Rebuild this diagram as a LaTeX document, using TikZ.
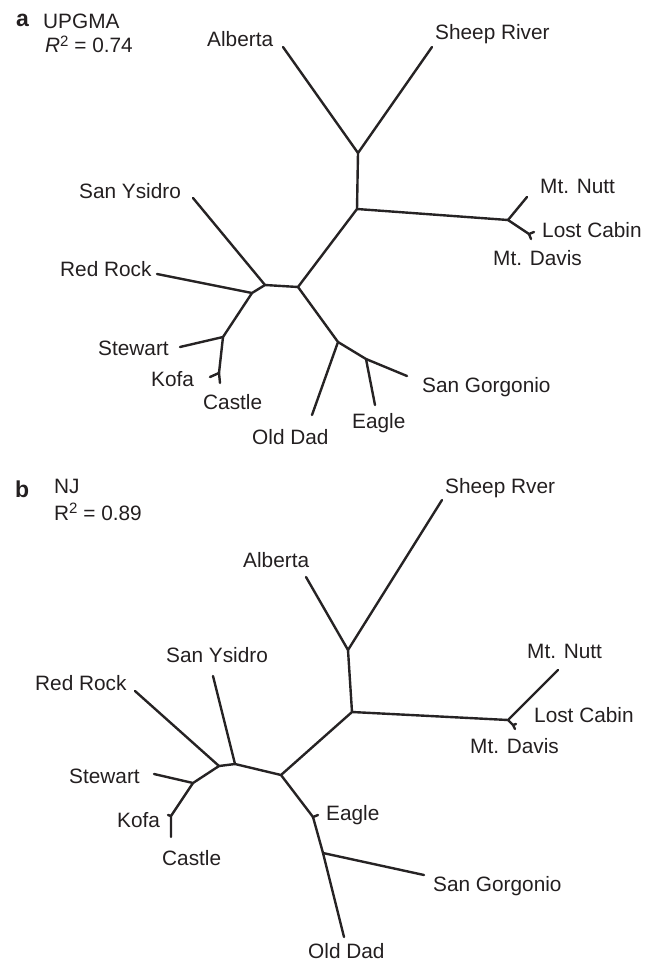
\documentclass[tikz,border=0pt]{standalone}
\usepackage{fontspec}
\setmainfont{Liberation Sans}
\definecolor{linec}{HTML}{262324}
\definecolor{labelc}{HTML}{231F20}
\newcommand{\supsq}{\raisebox{0.6ex}{\fontsize{15}{15}\selectfont 2}}
\tikzset{
  branch/.style={line width=2.4pt, draw=linec, line cap=round, line join=round},
  taxon/.style={anchor=base west, inner sep=0pt, text=labelc, font=\fontsize{20.8}{24}\selectfont},
  panelmark/.style={anchor=base west, inner sep=0pt, text=labelc, font=\fontsize{23}{24}\selectfont\bfseries},
}
\begin{document}
\begin{tikzpicture}[x=1pt, y=-1pt]
\useasboundingbox (0,0) rectangle (653,963);

% ---------------- Panel a: UPGMA ----------------
\node[panelmark] (pa) at (16,27) {a};
\node[taxon] (ma) at (43,29) {UPGMA};
\node[taxon] (ra) at (45,53) {\textit{R}\supsq{} = 0.74};

% junctions
\coordinate (a1) at (358,153);
\coordinate (a2) at (357,209);
\coordinate (a3) at (508,220);
\coordinate (a4) at (298,287);
\coordinate (a5) at (265,285);
\coordinate (a6) at (252,293);
\coordinate (a7) at (223,337);
\coordinate (a8) at (219,373);
\coordinate (a9) at (338,342);
\coordinate (a10) at (366,359);
\coordinate (a11) at (529,234);
% tips
\coordinate (aAlb) at (283,47);
\coordinate (aShe) at (432,47);
\coordinate (aNut) at (527,197);
\coordinate (aLos) at (534,232);
\coordinate (aDav) at (531,239);
\coordinate (aYsi) at (193,198);
\coordinate (aRed) at (157,274);
\coordinate (aSte) at (180,347);
\coordinate (aKof) at (210,377);
\coordinate (aCas) at (220,383);
\coordinate (aOld) at (312,415);
\coordinate (aEag) at (375,405);
\coordinate (aGor) at (407,376);

\draw[branch] (aAlb) -- (a1) -- (aShe);
\draw[branch] (a1) -- (a2) -- (a3) -- (aNut);
\draw[branch] (a3) -- (a11) -- (aLos);
\draw[branch] (a11) -- (aDav);
\draw[branch] (a2) -- (a4) -- (a5) -- (aYsi);
\draw[branch] (a5) -- (a6) -- (aRed);
\draw[branch] (a6) -- (a7) -- (aSte);
\draw[branch] (a7) -- (a8) -- (aCas);
\draw[branch] (a8) -- (aKof);
\draw[branch] (a4) -- (a9) -- (aOld);
\draw[branch] (a9) -- (a10) -- (aGor);
\draw[branch] (a10) -- (aEag);

\node[taxon] (lAlbA) at (207,47) {Alberta};
\node[taxon] (lSheA) at (435,40) {Sheep River};
\node[taxon] (lNutA) at (540,193) {Mt. Nutt};
\node[taxon] (lLosA) at (542,237) {Lost Cabin};
\node[taxon] (lDavA) at (493,265) {Mt. Davis};
\node[taxon] (lYsiA) at (79,198) {San Ysidro};
\node[taxon] (lRedA) at (60,276) {Red Rock};
\node[taxon] (lSteA) at (98,355) {Stewart};
\node[taxon] (lKofA) at (151,386) {Kofa};
\node[taxon] (lCasA) at (203,409) {Castle};
\node[taxon] (lOldA) at (252,444) {Old Dad};
\node[taxon] (lEagA) at (352,428) {Eagle};
\node[taxon] (lGorA) at (422,392) {San Gorgonio};

% ---------------- Panel b: NJ ----------------
\node[panelmark] (pb) at (15,497) {b};
\node[taxon] (mb) at (54,493) {NJ};
\node[taxon] (rb) at (54,520) {R\supsq{} = 0.89};

% junctions
\coordinate (b1) at (219,766);
\coordinate (b2) at (235,764);
\coordinate (b3) at (281,775);
\coordinate (b4) at (352,712);
\coordinate (b5) at (348,650);
\coordinate (b6) at (508,720);
\coordinate (b7) at (193,783);
\coordinate (b8) at (171,816);
\coordinate (b9) at (313,817);
\coordinate (b10) at (323,853);
\coordinate (b11) at (513,725);
% tips
\coordinate (bAlb) at (306,577);
\coordinate (bShe) at (442,500);
\coordinate (bNut) at (558,670);
\coordinate (bLos) at (516,724);
\coordinate (bDav) at (515,729);
\coordinate (bRed) at (135,691);
\coordinate (bYsi) at (213,676);
\coordinate (bSte) at (154,774);
\coordinate (bKof) at (168,815);
\coordinate (bCas) at (171,837);
\coordinate (bEag) at (318,815);
\coordinate (bOld) at (344,937);
\coordinate (bGor) at (424,875);

\draw[branch] (bAlb) -- (b5) -- (bShe);
\draw[branch] (b5) -- (b4) -- (b6) -- (bNut);
\draw[branch] (b6) -- (b11) -- (bLos);
\draw[branch] (b11) -- (bDav);
\draw[branch] (b4) -- (b3) -- (b2) -- (bYsi);
\draw[branch] (b2) -- (b1) -- (bRed);
\draw[branch] (b1) -- (b7) -- (bSte);
\draw[branch] (b7) -- (b8) -- (bCas);
\draw[branch] (b8) -- (bKof);
\draw[branch] (b3) -- (b9) -- (b10) -- (bOld);
\draw[branch] (b9) -- (bEag);
\draw[branch] (b10) -- (bGor);

\node[taxon] (lSheB) at (445,493) {Sheep Rver};
\node[taxon] (lAlbB) at (243,567) {Alberta};
\node[taxon] (lYsiB) at (166,662) {San Ysidro};
\node[taxon] (lRedB) at (35,690) {Red Rock};
\node[taxon] (lNutB) at (527,658) {Mt. Nutt};
\node[taxon] (lLosB) at (534,722) {Lost Cabin};
\node[taxon] (lDavB) at (470,753) {Mt. Davis};
\node[taxon] (lSteB) at (69,783) {Stewart};
\node[taxon] (lKofB) at (117,827) {Kofa};
\node[taxon] (lEagB) at (326,820) {Eagle};
\node[taxon] (lCasB) at (162,865) {Castle};
\node[taxon] (lGorB) at (433,891) {San Gorgonio};
\node[taxon] (lOldB) at (308,958) {Old Dad};
\end{tikzpicture}
\end{document}
